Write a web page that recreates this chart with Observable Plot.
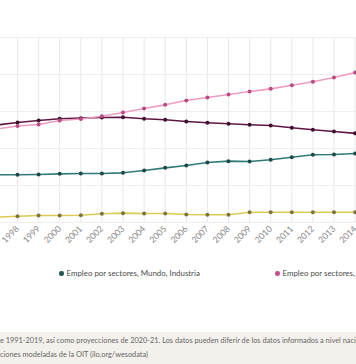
<!DOCTYPE html>
<html><head><meta charset="utf-8">
<script src="https://cdn.jsdelivr.net/npm/d3@7"></script>
<script src="https://cdn.jsdelivr.net/npm/@observablehq/plot@0.6"></script>
<style>
html,body{margin:0;padding:0;background:#fff;width:356px;height:364px;overflow:hidden;font-family:Lato,"Noto Sans",sans-serif;}
#wrap{position:relative;width:356px;height:364px;overflow:hidden;}
#chart{position:absolute;left:0;top:0;}
.leg{position:absolute;top:268px;font-size:7.9px;color:#4a4a4a;white-space:nowrap;}
.leg i{display:inline-block;width:4.5px;height:4.5px;border-radius:50%;margin-right:3px;vertical-align:0.5px;}
#foot{position:absolute;left:0;top:332px;width:356px;height:32px;background:#f4f1ec;}
#foot div{position:absolute;left:0;font-size:7.35px;color:#666;white-space:nowrap;}
</style></head>
<body><div id="wrap"><div id="chart"></div>
<div class="leg" style="left:59px"><i style="background:#1f5652"></i>Empleo por sectores, Mundo, Industria</div>
<div class="leg" style="left:275px"><i style="background:#c84f8c"></i>Empleo por sectores, Mundo, Servicios</div>
<div id="foot"><div style="top:4px">e 1991-2019, así como proyecciones de 2020-21. Los datos pueden diferir de los datos informados a nivel nacional.</div>
<div style="top:18px">ciones modeladas de la OIT (ilo.org/wesodata)</div></div>
</div>
<script>
const years = [1997,1998,1999,2000,2001,2002,2003,2004,2005,2006,2007,2008,2009,2010,2011,2012,2013,2014,2015];
const servicios   = [1011,1043,1059,1103,1119,1149,1189,1232,1272,1319,1351,1384,1416,1445,1484,1521,1568,1622,1676];
const agricultura = [1054,1081,1103,1121,1128,1135,1138,1121,1110,1092,1078,1067,1056,1049,1024,1002,984,964,946];
const industria   = [516,516,519,526,530,530,537,562,591,616,649,663,659,678,706,732,735,746,751];
const otros       = [57,68,76,76,79,94,101,97,97,86,83,83,111,111,111,111,111,111,111];
const yTicks = [0,400,800,1200,1600,2000];
const xTicks = [1998,1999,2000,2001,2002,2003,2004,2005,2006,2007,2008,2009,2010,2011,2012,2013,2014];

const seriesDefs = [
  {name:"Agricultura", values:agricultura, line:"#5e1745", dot:"#3f0f2f"},
  {name:"Servicios", values:servicios, line:"#ee9cc1", dot:"#b94b82"},
  {name:"Industria", values:industria, line:"#2f7a77", dot:"#1d4a48"},
  {name:"Otros", values:otros, line:"#dccb52", dot:"#7f7440"}
];
const rows = seriesDefs.flatMap(s => years.map((y,i)=>({year:y, value:s.values[i], serie:s.name})));
const marks = [
  Plot.gridX(xTicks, {stroke:"#e8e8ec", strokeOpacity:1, strokeWidth:1}),
  Plot.gridY(yTicks, {stroke:"#eeeeee", strokeOpacity:1, strokeWidth:1}),
  Plot.axisX(xTicks, {tickSize:0, tickPadding:5, tickRotate:-45, tickFormat:d=>String(d), fontSize:8.6, fill:"#888", label:null})
];
for (const s of seriesDefs) {
  const d = rows.filter(r=>r.serie===s.name);
  marks.push(Plot.line(d, {x:"year", y:"value", stroke:s.line, strokeWidth:1.6, clip:true}));
  marks.push(Plot.dot(d, {x:"year", y:"value", fill:s.dot, r:2, clip:true}));
}
const chart = Plot.plot({
  width:356, height:262,
  marginLeft:0, marginRight:0, marginTop:37, marginBottom:40,
  x:{type:"linear", domain:[1998-17/21.1, 1998+339/21.1], range:[0,356]},
  y:{domain:[0,2000], axis:null},
  style:{fontFamily:"Lato, 'Noto Sans', sans-serif", background:"transparent"},
  marks
});
document.getElementById("chart").appendChild(chart);
</script></body></html>
